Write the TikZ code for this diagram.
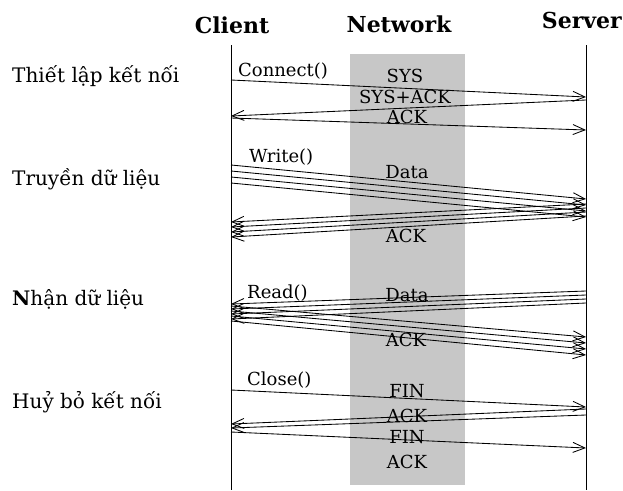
\documentclass[tikz,border=0pt]{standalone}
\usepackage{fontspec}
\setmainfont{DejaVu Serif}
\usetikzlibrary{arrows.meta}
\begin{document}
\begin{tikzpicture}[x=1pt,y=-1pt,
  lifeline/.style={line width=1pt},
  msg/.style={line width=0.85pt,
    -{Straight Barb[length=12pt,width=10pt,line width=0.85pt]}},
  head/.style={font=\bfseries\fontsize{22}{24}\selectfont, inner sep=0pt, anchor=base},
  phase/.style={font=\fontsize{20}{22}\selectfont, inner sep=0pt, anchor=base west},
  call/.style={font=\fontsize{18}{20}\selectfont, inner sep=0pt, anchor=base west},
  pkt/.style={font=\fontsize{18}{20}\selectfont, inner sep=0pt, anchor=base},
  band/.style={fill=black!22, draw=none, inner sep=0pt, anchor=north west,
    minimum width=115pt, minimum height=431pt},
]
\useasboundingbox (0,0) rectangle (623,490);

% network band
\node[band] (net) at (350,54) {};

% column headings
\node[head] (hclient) at (232,33) {Client};
\node[head] (hnet) at (399,32) {Network};
\node[head, anchor=base east] (hserver) at (622,28) {Server};

% lifelines
\coordinate (ctop) at (231,45);
\coordinate (cbot) at (231,490);
\coordinate (stop) at (586,45);
\coordinate (sbot) at (586,490);
\draw[lifeline] (ctop) -- (cbot);
\draw[lifeline] (stop) -- (sbot);

% client -> server messages
\foreach \n/\ya/\yb in {1/80/97, 2/118/130,
    3/165/199, 4/171/205, 5/177/211, 6/183/217,
    7/306/337, 8/311/343, 9/316/349, 10/321/355,
    11/390/407, 12/432/448} {
  \coordinate (r\n a) at (231,\ya);
  \coordinate (r\n b) at (586,\yb);
  \draw[msg] (r\n a) -- (r\n b);
}

% server -> client messages
\foreach \n/\ya/\yb in {1/100/116,
    2/204/222, 3/208/227, 4/212/232, 5/216/237,
    6/291/304, 7/295/309, 8/299/314, 9/303/319,
    10/409/424, 11/415/428} {
  \coordinate (l\n a) at (586,\ya);
  \coordinate (l\n b) at (231,\yb);
  \draw[msg] (l\n a) -- (l\n b);
}

% phase labels
\node[phase] (p1) at (12,82) {Thiết lập kết nối};
\node[phase] (p2) at (12,185) {Truyền dữ liệu};
\node[phase] (p3) at (12,305) {{\bfseries N}hận dữ liệu};
\node[phase] (p4) at (12,408) {Huỷ bỏ kết nối};

% calls at the client
\node[call] (k1) at (238,76) {Connect()};
\node[call] (k2) at (249,162) {Write()};
\node[call] (k3) at (247,298) {Read()};
\node[call] (k4) at (247,385) {Close()};

% packets on the network
\node[pkt] (t1) at (405,82) {SYS};
\node[pkt] (t2) at (405,103) {SYS+ACK};
\node[pkt] (t3) at (407,123) {ACK};
\node[pkt] (t4) at (407,178) {Data};
\node[pkt] (t5) at (406,242) {ACK};
\node[pkt] (t6) at (407,301) {Data};
\node[pkt] (t7) at (406,346) {ACK};
\node[pkt] (t8) at (407,397) {FIN};
\node[pkt] (t9) at (407,422) {ACK};
\node[pkt] (t10) at (407,443) {FIN};
\node[pkt] (t11) at (407,468) {ACK};
\end{tikzpicture}
\end{document}
